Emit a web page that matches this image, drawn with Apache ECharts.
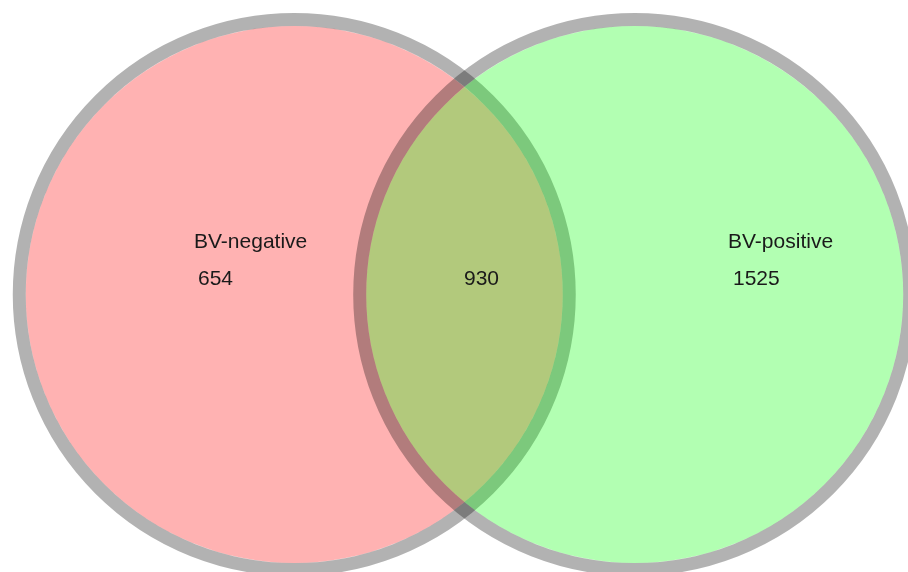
<!DOCTYPE html>
<html><head><meta charset="utf-8">
<script src="https://cdn.jsdelivr.net/npm/echarts@6/dist/echarts.min.js"></script>
<style>html,body{margin:0;padding:0;background:#fff}#c{width:908px;height:572px}</style>
</head><body><div id="c"></div>
<script>
// ---- data ----
const setNames = ['BV-negative', 'BV-positive'];
const regionNames = ['BV-negative only', 'BV-negative & BV-positive', 'BV-positive only'];
const regionCounts = [654, 930, 1525];

// ---- layout (venn units: circle outline radius = 1) ----
const pxPerUnit = 275;
const originPx = [294.25, 294.5];
const circleCenters = [[0, 0], [1.238, 0]];
const circleRadius = 1;
const setLabelPos = [[-0.3645, 0.1909], [1.5773, 0.1909]];
const countLabelPos = [[-0.35, 0.0564], [0.6173, 0.0564], [1.5955, 0.0564]];

// ---- styles ----
const fills = ['rgba(255,0,0,0.3)', 'rgba(0,255,0,0.3)'];
const ringColor = 'rgba(0,0,0,0.3)';
const ringWidth = 13;
const fontSize = 21;

const W = 908, H = 572;
const xMin = -originPx[0] / pxPerUnit, xMax = (W - originPx[0]) / pxPerUnit;
const yMax = originPx[1] / pxPerUnit, yMin = -(H - originPx[1]) / pxPerUnit;

const labels = [];
setNames.forEach((n, i) => labels.push({ pos: setLabelPos[i], text: n }));
regionCounts.forEach((c, i) => labels.push({ pos: countLabelPos[i], text: String(c) }));

const chart = echarts.init(document.getElementById('c'), null, { renderer: 'canvas' });
chart.setOption({
  animation: false,
  backgroundColor: '#fff',
  grid: { left: 0, right: 0, top: 0, bottom: 0 },
  xAxis: { type: 'value', min: xMin, max: xMax, show: false },
  yAxis: { type: 'value', min: yMin, max: yMax, show: false },
  series: [
    {
      type: 'custom',
      coordinateSystem: 'cartesian2d',
      data: setNames.map((n, i) => ({ name: n, value: [circleCenters[i][0], circleCenters[i][1], circleRadius] })),
      renderItem: function (params, api) {
        const c = api.coord([api.value(0), api.value(1)]);
        const r = api.size([api.value(2), 0])[0];
        return {
          type: 'group',
          children: [
            { type: 'circle', shape: { cx: c[0], cy: c[1], r: r - ringWidth / 2 }, style: { fill: fills[params.dataIndex] } },
            { type: 'circle', shape: { cx: c[0], cy: c[1], r: r }, style: { fill: 'none', stroke: ringColor, lineWidth: ringWidth } }
          ]
        };
      },
      silent: true
    },
    {
      type: 'custom',
      coordinateSystem: 'cartesian2d',
      data: labels.map(l => [l.pos[0], l.pos[1]]),
      renderItem: function (params, api) {
        const p = api.coord([api.value(0), api.value(1)]);
        return {
          type: 'text',
          x: p[0], y: p[1],
          style: {
            text: labels[params.dataIndex].text,
            fill: '#1a1a1a',
            font: fontSize + 'px "Liberation Sans", Arial, sans-serif',
            align: 'left',
            verticalAlign: 'middle'
          }
        };
      },
      silent: true
    }
  ]
});
</script>
</body></html>
